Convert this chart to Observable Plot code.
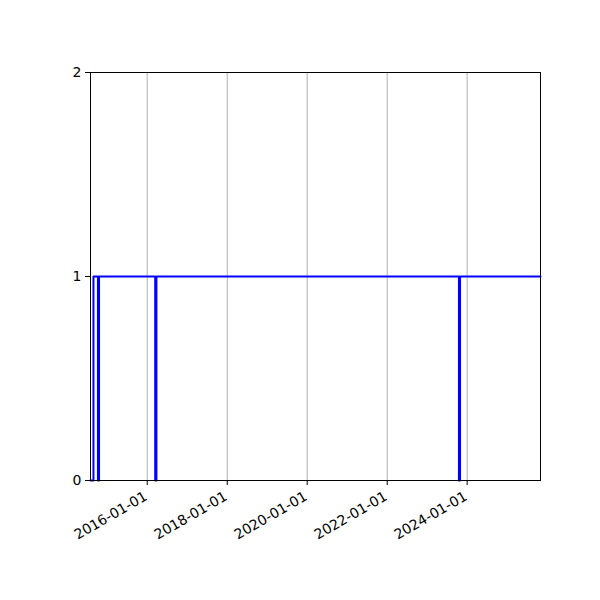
<!DOCTYPE html>
<html>
<head>
<meta charset="utf-8">
<script src="https://cdn.jsdelivr.net/npm/d3@7"></script>
<script src="https://cdn.jsdelivr.net/npm/@observablehq/plot@0.6"></script>
<style>
  html, body { margin: 0; padding: 0; background: #fff; }
  svg { display: block; }
</style>
</head>
<body>
<div id="chart"></div>
<script>
// Step data: value takes effect from each date onward (step-after)
const dates = [
  "2014-08-01", "2014-08-28", "2014-10-08", "2014-10-18",
  "2016-03-14", "2016-03-25", "2023-10-18", "2023-10-28", "2025-11-01"
];
const values = [0, 1, 0, 1, 0, 1, 0, 1, 1];

const xDomain = ["2014-08-01", "2025-11-01"];
const xTicks = ["2016-01-01", "2018-01-01", "2020-01-01", "2022-01-01", "2024-01-01"];
const yTicks = [0, 1, 2];

const data = dates.map((d, i) => ({date: new Date(d), value: values[i]}));
const tickDates = xTicks.map(d => new Date(d));
const fmt = d3.utcFormat("%Y-%m-%d");

const chart = Plot.plot({
  width: 600,
  height: 600,
  marginLeft: 90,
  marginRight: 60,
  marginTop: 72,
  marginBottom: 120,
  style: {fontFamily: "DejaVu Sans", fontSize: "14px", color: "#000", background: "#fff"},
  x: {type: "utc", domain: xDomain.map(d => new Date(d))},
  y: {type: "linear", domain: [0, 2]},
  marks: [
    Plot.gridX(tickDates, {stroke: "#b0b0b0", strokeOpacity: 1, strokeWidth: 1}),
    Plot.line(data, {x: "date", y: "value", curve: "step-after", stroke: "#0000ff", strokeWidth: 2}),
    Plot.frame({stroke: "#000", strokeWidth: 1}),
    Plot.axisY({ticks: yTicks, tickSize: 5, tickPadding: 4, tickFormat: d => String(d), label: null, fontSize: 14}),
    Plot.axisX({ticks: tickDates, tickSize: 5, tickFormat: () => "", label: null}),
    Plot.text(tickDates, {
      x: d => d, frameAnchor: "bottom", text: d => fmt(d),
      rotate: -30, textAnchor: "end", lineAnchor: "top",
      dx: -4, dy: 10, fontSize: 14, fill: "#000"
    })
  ]
});
document.getElementById("chart").appendChild(chart);
</script>
</body>
</html>
